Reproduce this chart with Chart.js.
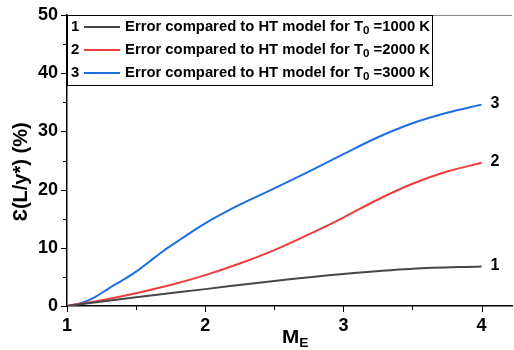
<!DOCTYPE html>
<html>
<head>
<meta charset="utf-8">
<script src="https://cdn.jsdelivr.net/npm/chart.js@4"></script>
<style>
  body { margin: 0; background: #fff; }
  #wrap { width: 514px; height: 350px; }
</style>
</head>
<body>
<div id="wrap"><canvas id="myChart" width="514" height="350"></canvas></div>
<script>
// values
const xTicks = [1, 2, 3, 4];
const yTicks = [0, 10, 20, 30, 40, 50];

const mach1 = [1, 1.5, 2, 2.5, 3, 3.5, 4];
const err1000 = [0, 1.5, 2.9, 4.3, 5.5, 6.4, 6.8];

const mach2 = [1, 1.25, 1.5, 1.75, 2, 2.25, 2.5, 2.75, 3, 3.25, 3.5, 3.75, 4];
const err2000 = [0, 1.0, 2.2, 3.6, 5.3, 7.3, 9.6, 12.3, 15.2, 18.3, 21.0, 23.1, 24.6];

const mach3 = [1, 1.1, 1.2, 1.3, 1.4, 1.5, 1.6, 1.7, 1.8, 1.9, 2, 2.25, 2.5, 2.75, 3, 3.25, 3.5, 3.75, 4];
const err3000 = [0, 0.5, 1.5, 3.0, 4.4, 5.9, 7.7, 9.5, 11.1, 12.7, 14.2, 17.4, 20.2, 23.1, 26.1, 29.0, 31.4, 33.2, 34.6];

const seriesNames = ['1000', '2000', '3000'];
const seriesTags = ['1', '2', '3'];
const colors = ['#474747', '#f03c3c', '#1f6ee0'];

const FONT = 'Liberation Sans, Arial, sans-serif';

function pts(xs, ys) {
    return xs.map((x, i) => ({ x: x, y: ys[i] }));
}

const extras = {
    id: 'extras',
    afterDraw(chart) {
        const ctx = chart.ctx;
        const xs = chart.scales.x;
        const ys = chart.scales.y;
        const area = chart.chartArea;
        ctx.save();

        // tick marks, major and minor
        ctx.strokeStyle = '#000';
        ctx.lineWidth = 1;
        for (let v = 1; v <= 4.2; v += 0.5) {
            const px = Math.round(xs.getPixelForValue(v)) + 0.5;
            const len = Number.isInteger(v) ? 6 : 4;
            ctx.beginPath();
            ctx.moveTo(px, area.bottom);
            ctx.lineTo(px, area.bottom + len);
            ctx.stroke();
        }
        for (let v = 0; v <= 50; v += 5) {
            const py = Math.round(ys.getPixelForValue(v)) + 0.5;
            const len = v % 10 === 0 ? 6 : 4;
            ctx.beginPath();
            ctx.moveTo(area.left, py);
            ctx.lineTo(area.left - len, py);
            ctx.stroke();
        }

        // faint top frame
        ctx.strokeStyle = '#888';
        ctx.beginPath();
        ctx.moveTo(area.left, area.top + 0.5);
        ctx.lineTo(area.right, area.top + 0.5);
        ctx.stroke();

        // legend box
        const bx = area.left, by = area.top, bw = 365, bh = 70;
        ctx.fillStyle = '#fff';
        ctx.fillRect(bx, by, bw, bh);
        ctx.strokeStyle = '#000';
        ctx.strokeRect(bx + 0.5, by + 0.5, bw, bh);
        ctx.textBaseline = 'middle';
        seriesNames.forEach((name, i) => {
            const cy = by + 12 + i * 23;
            ctx.fillStyle = '#000';
            ctx.font = 'bold 15px ' + FONT;
            ctx.textAlign = 'left';
            ctx.fillText(seriesTags[i], bx + 4, cy);
            ctx.strokeStyle = colors[i];
            ctx.lineWidth = 2;
            ctx.beginPath();
            ctx.moveTo(bx + 17, cy);
            ctx.lineTo(bx + 53, cy);
            ctx.stroke();

            // text is a bit wide in the original, so stretch it to fit
            const a = 'Error compared to HT model for T';
            const b = ' =' + name + ' K';
            ctx.font = 'bold 14px ' + FONT;
            const wa = ctx.measureText(a).width;
            const wb = ctx.measureText(b).width;
            ctx.font = 'bold 11px ' + FONT;
            const w0 = ctx.measureText('0').width;
            const k = 305 / (wa + wb + w0);
            ctx.save();
            ctx.translate(bx + 58, cy);
            ctx.scale(k, 1);
            ctx.font = 'bold 14px ' + FONT;
            ctx.fillText(a, 0, 0);
            ctx.font = 'bold 11px ' + FONT;
            ctx.fillText('0', wa, 4);
            ctx.font = 'bold 14px ' + FONT;
            ctx.fillText(b, wa + w0, 0);
            ctx.restore();
        });

        // labels at line ends
        const ends = [err1000, err2000, err3000];
        ctx.font = 'bold 16px ' + FONT;
        ctx.fillStyle = '#000';
        ctx.textAlign = 'left';
        ends.forEach((arr, i) => {
            const py = ys.getPixelForValue(arr[arr.length - 1]);
            ctx.fillText(seriesTags[i], xs.getPixelForValue(4) + 9, py - 1);
        });

        // x title, M with subscript E
        ctx.textAlign = 'left';
        ctx.textBaseline = 'alphabetic';
        ctx.save();
        ctx.translate(282, 343);
        ctx.scale(1.15, 1);
        ctx.font = 'bold 18px ' + FONT;
        const mW = ctx.measureText('M').width;
        ctx.fillText('M', 0, 0);
        ctx.font = 'bold 12px ' + FONT;
        ctx.fillText('E', mW, 4);
        ctx.restore();

        // y title
        ctx.translate(27, 172);
        ctx.rotate(-Math.PI / 2);
        ctx.font = 'bold 20px ' + FONT;
        ctx.textAlign = 'center';
        ctx.fillText('Ɛ(L/y*) (%)', 0, 0);
        ctx.restore();
    }
};

new Chart(document.getElementById('myChart'), {
    type: 'line',
    data: {
        datasets: [
            { data: pts(mach1, err1000), borderColor: colors[0] },
            { data: pts(mach2, err2000), borderColor: colors[1] },
            { data: pts(mach3, err3000), borderColor: colors[2] }
        ].map(d => Object.assign(d, {
            borderWidth: 2,
            pointRadius: 0,
            fill: false,
            cubicInterpolationMode: 'monotone'
        }))
    },
    options: {
        responsive: false,
        animation: false,
        layout: { padding: { top: 15, right: 2, left: 0, bottom: 0 } },
        plugins: { legend: { display: false }, tooltip: { enabled: false } },
        scales: {
            x: {
                type: 'linear',
                min: 1,
                max: 4.22,
                afterFit: s => { s.height = 44; },
                afterBuildTicks: s => { s.ticks = xTicks.map(v => ({ value: v })); },
                grid: { drawOnChartArea: false, color: 'transparent', tickLength: 6 },
                border: { display: true, color: '#000', width: 1.5 },
                ticks: {
                    color: '#000',
                    padding: 3,
                    maxRotation: 0,
                    font: { family: FONT, size: 18, weight: 'bold' }
                }
            },
            y: {
                min: 0,
                max: 50,
                afterFit: s => { s.width = 67; },
                afterBuildTicks: s => { s.ticks = yTicks.map(v => ({ value: v })); },
                grid: { drawOnChartArea: false, color: 'transparent', tickLength: 6 },
                border: { display: true, color: '#000', width: 1.5 },
                ticks: {
                    color: '#000',
                    padding: 3,
                    font: { family: FONT, size: 18, weight: 'bold' }
                }
            }
        }
    },
    plugins: [extras]
});
</script>
</body>
</html>
